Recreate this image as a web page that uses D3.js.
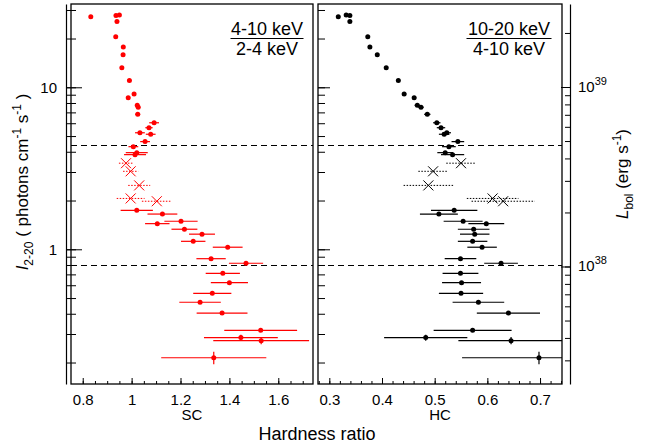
<!DOCTYPE html>
<html>
<head>
<meta charset="utf-8">
<script src="https://cdn.jsdelivr.net/npm/d3@7"></script>
<style>
  body { margin: 0; background: #fff; }
  svg { display: block; font-family: "Liberation Sans", Arial, sans-serif; }
</style>
</head>
<body>
<svg id="chart" width="652" height="445"></svg>
<script>
// I(2-20) of each observation, with SC and HC hardness ratios
const intensity = [27.3, 27.7, 27.9, 25.5, 20.5, 17.7, 15.9, 13.2, 11.0, 8.62, 9.09, 7.74, 7.53, 6.81,
    6.04, 5.63, 5.24, 5.13, 4.62, 4.30, 3.84, 3.95,
    1.74, 1.65, 1.49, 1.44, 1.33, 1.24, 1.12, 1.03, 0.875, 0.82, 0.711, 0.622, 0.535, 0.471, 0.404,
    0.316, 0.285, 0.273, 0.214];
const intensityErr = [0, 0, 0, 0, 0, 0, 0, 0, 0, 0, 0, 0, 0, 0, 0, 0, 0, 0, 0, 0, 0, 0,
    0, 0, 0, 0, 0, 0, 0, 0, 0, 0, 0, 0, 0, 0, 0,
    0, 0.012, 0.014, 0.019];
const sc = [0.833, 0.936, 0.950, 0.940, 0.935, 0.966, 0.965, 0.960, 0.991, 0.986, 1.010, 1.023, 1.027, 1.025,
    1.092, 1.071, 1.034, 1.078, 1.055, 1.007, 1.014, 1.021,
    1.021, 1.126, 1.202, 1.105, 1.216, 1.288, 1.252, 1.393, 1.325, 1.468, 1.373, 1.400, 1.330, 1.280, 1.370,
    1.528, 1.447, 1.530, 1.336];
const scErr = [0, 0, 0, 0, 0, 0, 0, 0, 0, 0.008, 0.008, 0.008, 0.008, 0.01,
    0.02, 0.015, 0.02, 0.02, 0.02, 0.02, 0.045, 0.045,
    0.066, 0.061, 0.068, 0.050, 0.053, 0.053, 0.050, 0.061, 0.060, 0.070, 0.070, 0.076, 0.078, 0.085, 0.104,
    0.149, 0.151, 0.196, 0.215];
const hc = [0.317, 0.339, 0.332, 0.339, 0.373, 0.377, 0.391, 0.408, 0.431, 0.461, 0.442, 0.467, 0.474, 0.486,
    0.504, 0.512, 0.523, 0.518, 0.544, 0.527, 0.534, 0.520,
    0.537, 0.508, 0.554, 0.598, 0.574, 0.576, 0.572, 0.590, 0.549, 0.626, 0.549, 0.551, 0.550, 0.583, 0.640,
    0.572, 0.483, 0.645, 0.698];
const hcErr = [0, 0, 0, 0, 0, 0, 0, 0, 0, 0.004, 0.004, 0.005, 0.005, 0.006,
    0.007, 0.008, 0.008, 0.01, 0.012, 0.013, 0.022, 0.015,
    0.044, 0.036, 0.037, 0.034, 0.030, 0.028, 0.028, 0.028, 0.030, 0.032, 0.034, 0.037, 0.042, 0.049, 0.060,
    0.074, 0.079, 0.10, 0.146];

// observations drawn as crosses with dotted error bars
const crossIntensity = [3.40, 3.03, 2.48, 2.06, 1.98];
const crossSc = [0.977, 0.996, 1.031, 0.996, 1.103];
const crossScErr = [0.029, 0.031, 0.045, 0.057, 0.061];
const crossHc = [0.550, 0.497, 0.488, 0.610, 0.630];
const crossHcErr = [0.028, 0.028, 0.047, 0.049, 0.060];

// horizontal dashed levels
const levels = [4.4, 0.8];

const scTicks = [0.8, 1, 1.2, 1.4, 1.6];
const hcTicks = [0.3, 0.4, 0.5, 0.6, 0.7];
const intensityTicks = [1, 10];
const lumTicks = [38, 39];

const svg = d3.select("#chart");
const yTop = 4, yBottom = 384;

const y = d3.scaleLog().domain([0.1474, 32.67]).range([yBottom, yTop]);
const yL = d3.scaleLog().domain([Math.pow(10, 37.3454), Math.pow(10, 39.4624)]).range([yBottom, yTop]);

const panels = [
    { name: "SC", color: "#ff0000", x0: 71, x1: 313, domain: [0.752, 1.742], minor: 0.05,
      ticks: scTicks, vals: sc, errs: scErr, cVals: crossSc, cErrs: crossScErr,
      num: "4-10 keV", den: "2-4 keV", fx: 267 },
    { name: "HC", color: "#000000", x0: 318, x1: 562, domain: [0.2785, 0.7417], minor: 0.02,
      ticks: hcTicks, vals: hc, errs: hcErr, cVals: crossHc, cErrs: crossHcErr,
      num: "10-20 keV", den: "4-10 keV", fx: 509 }
];

const fmt = d => String(d);

panels.forEach((p, pi) => {
    const x = d3.scaleLinear().domain(p.domain).range([p.x0, p.x1]);
    const clipId = "clip" + pi;
    svg.append("clipPath").attr("id", clipId).append("rect")
        .attr("x", p.x0).attr("y", yTop).attr("width", p.x1 - p.x0).attr("height", yBottom - yTop);

    const g = svg.append("g");
    const plot = g.append("g").attr("clip-path", `url(#${clipId})`);

    levels.forEach(v => {
        const ly = Math.round(y(v)) + 0.5;
        plot.append("line")
            .attr("x1", p.x0).attr("x2", p.x1).attr("y1", ly).attr("y2", ly)
            .attr("stroke", "#000").attr("stroke-width", 1).attr("stroke-dasharray", "6,4");
    });

    // x minor + major ticks along bottom (pointing up)
    const minorVals = d3.range(Math.ceil(p.domain[0] / p.minor) * p.minor, p.domain[1], p.minor);
    g.append("g").attr("transform", `translate(0,${yBottom})`)
        .call(d3.axisTop(x).tickValues(minorVals).tickSize(3).tickFormat(""))
        .call(a => a.select(".domain").remove())
        .call(a => a.selectAll("line").attr("stroke", "#000"));
    g.append("g").attr("transform", `translate(0,${yBottom})`)
        .call(d3.axisBottom(x).tickValues(p.ticks).tickSizeInner(-6).tickSizeOuter(0).tickPadding(10).tickFormat(fmt))
        .call(a => a.select(".domain").remove())
        .call(a => a.selectAll("line").attr("stroke", "#000"))
        .call(a => a.selectAll("text").attr("font-size", 15).attr("fill", "#000")
            .attr("font-family", "Liberation Sans, Arial, sans-serif"));

    g.append("text").attr("x", (p.x0 + p.x1) / 2).attr("y", 420)
        .attr("text-anchor", "middle").attr("font-size", 15).text(p.name);

    // error bars
    plot.selectAll(null).data(intensity).enter().append("line")
        .attr("x1", (d, i) => x(p.vals[i] - p.errs[i])).attr("x2", (d, i) => x(p.vals[i] + p.errs[i]))
        .attr("y1", d => y(d)).attr("y2", d => y(d))
        .attr("stroke", p.color).attr("stroke-width", 1.2);
    plot.selectAll(null).data(intensity).enter().append("line")
        .attr("x1", (d, i) => x(p.vals[i])).attr("x2", (d, i) => x(p.vals[i]))
        .attr("y1", (d, i) => y(d - intensityErr[i])).attr("y2", (d, i) => y(d + intensityErr[i]))
        .attr("stroke", p.color).attr("stroke-width", 1.2);
    plot.selectAll(null).data(intensity).enter().append("circle")
        .attr("cx", (d, i) => x(p.vals[i])).attr("cy", d => y(d))
        .attr("r", 2.5).attr("fill", p.color);

    // crosses with dotted bars
    plot.selectAll(null).data(crossIntensity).enter().append("line")
        .attr("x1", (d, i) => x(p.cVals[i] - p.cErrs[i])).attr("x2", (d, i) => x(p.cVals[i] + p.cErrs[i]))
        .attr("y1", d => y(d)).attr("y2", d => y(d))
        .attr("stroke", p.color).attr("stroke-width", 1).attr("stroke-dasharray", "1.5,1.5");
    crossIntensity.forEach((d, i) => {
        const cx = x(p.cVals[i]), cy = y(d), s = 5;
        plot.append("path")
            .attr("d", `M${cx - s},${cy - s}L${cx + s},${cy + s}M${cx - s},${cy + s}L${cx + s},${cy - s}`)
            .attr("stroke", p.color).attr("stroke-width", 1).attr("fill", "none");
    });

    // ratio annotation
    const ann = g.append("g").attr("font-size", 18).attr("text-anchor", "middle");
    ann.append("text").attr("x", p.fx).attr("y", 35).text(p.num);
    ann.append("text").attr("x", p.fx).attr("y", 55).text(p.den);
    const w = p.name === "SC" ? 73 : 85;
    ann.append("line").attr("x1", p.fx - w / 2).attr("x2", p.fx + w / 2)
        .attr("y1", 38.5).attr("y2", 38.5).attr("stroke", "#000").attr("stroke-width", 1.2);

    // frame
    g.append("rect").attr("x", p.x0).attr("y", yTop)
        .attr("width", p.x1 - p.x0).attr("height", yBottom - yTop)
        .attr("fill", "none").attr("stroke", "#000").attr("stroke-width", 1.3);
});

// ticks on the left edge of the HC panel
svg.append("g").attr("transform", "translate(318,0)")
    .call(d3.axisRight(y).tickSize(7).tickFormat(""))
    .call(a => a.select(".domain").remove())
    .call(a => a.selectAll("line").attr("stroke", "#000"));
svg.append("g").attr("transform", "translate(318,0)")
    .call(d3.axisRight(y).tickValues(intensityTicks).tickSize(12).tickFormat(""))
    .call(a => a.select(".domain").remove())
    .call(a => a.selectAll("line").attr("stroke", "#000"));

// left offset intensity axis
svg.append("g").attr("transform", "translate(66,0)")
    .call(d3.axisRight(y).tickSize(10).tickSizeOuter(0).tickFormat(""))
    .call(a => a.select(".domain").attr("stroke", "#000").attr("stroke-width", 1.2))
    .call(a => a.selectAll("line").attr("stroke", "#000"));
svg.append("g").attr("transform", "translate(66,0)")
    .call(d3.axisLeft(y).tickValues(intensityTicks).tickSizeInner(-16).tickSizeOuter(0).tickPadding(9).tickFormat(fmt))
    .call(a => a.select(".domain").remove())
    .call(a => a.selectAll("line").attr("stroke", "#000"))
    .call(a => a.selectAll("text").attr("font-size", 15).attr("fill", "#000")
        .attr("font-family", "Liberation Sans, Arial, sans-serif"));

// right offset luminosity axis
svg.append("g").attr("transform", "translate(570,0)")
    .call(d3.axisRight(yL).tickSizeInner(-5).tickSizeOuter(0).tickFormat(""))
    .call(a => a.select(".domain").attr("stroke", "#000").attr("stroke-width", 1.2))
    .call(a => a.selectAll("line").attr("stroke", "#000"));
svg.append("g").attr("transform", "translate(570,0)")
    .call(d3.axisRight(yL).tickValues(lumTicks.map(e => Math.pow(10, e))).tickSizeInner(-9).tickSizeOuter(0).tickFormat(""))
    .call(a => a.select(".domain").remove())
    .call(a => a.selectAll("line").attr("stroke", "#000"));
lumTicks.forEach(e => {
    const t = svg.append("text").attr("x", 578).attr("y", yL(Math.pow(10, e)) + 5).attr("font-size", 15);
    t.append("tspan").text("10");
    t.append("tspan").attr("dy", -7).attr("font-size", 11).text(e);
});

// axis titles
const yt = svg.append("text").attr("font-size", 17).attr("text-anchor", "middle")
    .attr("transform", "translate(28,182) rotate(-90)");
yt.append("tspan").attr("font-style", "italic").text("I");
yt.append("tspan").attr("font-size", 12).attr("dy", 5).text("2-20");
yt.append("tspan").attr("dy", -5).text(" ( photons cm");
yt.append("tspan").attr("font-size", 12).attr("dy", -7).text("-1");
yt.append("tspan").attr("dy", 7).text(" s");
yt.append("tspan").attr("font-size", 12).attr("dy", -7).text("-1");
yt.append("tspan").attr("dy", 7).text(" )");

const lt = svg.append("text").attr("font-size", 17).attr("text-anchor", "middle")
    .attr("transform", "translate(628,174) rotate(-90)");
lt.append("tspan").attr("font-style", "italic").text("L");
lt.append("tspan").attr("font-size", 12).attr("dy", 5).text("bol");
lt.append("tspan").attr("dy", -5).text(" (erg s");
lt.append("tspan").attr("font-size", 12).attr("dy", -7).text("-1");
lt.append("tspan").attr("dy", 7).text(")");

svg.append("text").attr("x", 317).attr("y", 440).attr("text-anchor", "middle")
    .attr("font-size", 18).text("Hardness ratio");
</script>
</body>
</html>
